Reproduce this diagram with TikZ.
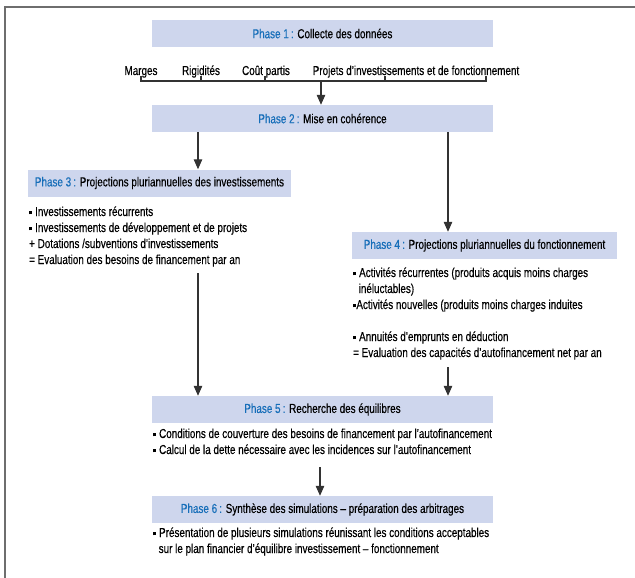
\documentclass[tikz,border=0pt]{standalone}
\usepackage{fontspec}
\setmainfont{Liberation Sans}[FakeStretch=0.76,FakeBold=0.4]
\usetikzlibrary{arrows.meta}
\definecolor{boxblue}{RGB}{206,214,237}
\definecolor{phaseblue}{RGB}{22,110,185}
\definecolor{framegray}{RGB}{110,110,110}
\newcommand{\sq}{\raisebox{1.6pt}{\rule{3.2pt}{3.2pt}}}
\newcommand{\ph}[2]{{\color{phaseblue}Phase #1\,:} #2}
\tikzset{
  phase/.style={fill=boxblue,inner sep=0pt,minimum height=27pt,font=\fontsize{13}{15}\selectfont},
  items/.style={anchor=base west,align=left,inner sep=0pt,font=\fontsize{13}{16}\selectfont},
  lbl/.style={inner sep=0pt,font=\fontsize{13}{15}\selectfont},
  arr/.style={draw=black!80,line width=1.2pt,-{Triangle[length=10pt,width=8.5pt]}}
}
\begin{document}
\begin{tikzpicture}[x=1pt,y=-1pt]
 \useasboundingbox (0,0) rectangle (635,578);
 \draw[framegray,line width=1.8pt] (5,578)--(5,7)--(635,7);

 \node[phase,minimum width=341pt] (p1) at (322.5,33.5) {\ph{1}{Collecte des données}};
 \node[lbl,anchor=base] (marges) at (141,75) {Marges};
 \node[lbl,anchor=base] (rigid) at (201,75) {Rigidités};
 \node[lbl,anchor=base] (cout) at (266,75) {Coût partis};
 \node[lbl,anchor=base] (projets) at (416,75) {Projets d’investissements et de fonctionnement};
 \draw[black!80,line width=1.2pt] (141,76)--(141,81)--(486,81)--(486,76);
 \foreach \x in {201,265,385} \draw[black!80,line width=1.2pt] (\x,76)--(\x,81);
 \coordinate (br) at (321,81);

 \node[phase,minimum width=341pt] (p2) at (322.5,118.5) {\ph{2}{Mise en cohérence}};
 \node[phase,minimum width=263pt] (p3) at (159.5,183) {\ph{3}{Projections pluriannuelles des investissements}};
 \node[phase,minimum width=265pt] (p4) at (484.5,245.5) {\ph{4}{Projections pluriannuelles du fonctionnement}};
 \node[phase,minimum width=341pt] (p5) at (322.5,409.5) {\ph{5}{Recherche des équilibres}};
 \node[phase,minimum width=341pt] (p6) at (322.5,509.5) {\ph{6}{Synthèse des simulations -- préparation des arbitrages}};

 \node[items] (t3) at (29,264) {\sq\ Investissements récurrents\\
  \sq\ Investissements de développement et de projets\\
  + Dotations /subventions d’investissements\\
  = Evaluation des besoins de financement par an};
 \node[items] (t4) at (353,357) {\sq\ Activités récurrentes (produits acquis moins charges\\
  \hspace*{5.5pt}inéluctables)\\
  \sq Activités nouvelles (produits moins charges induites\\[16pt]
  \sq\ Annuités d’emprunts en déduction\\
  = Evaluation des capacités d’autofinancement net par an};
 \node[items] (t5) at (153,454) {\sq\ Conditions de couverture des besoins de financement par l’autofinancement\\
  \sq\ Calcul de la dette nécessaire avec les incidences sur l’autofinancement};
 \node[items] (t6) at (153,553) {\sq\ Présentation de plusieurs simulations réunissant les conditions acceptables\\
  \hspace*{5.5pt}sur le plan financier d’équilibre investissement -- fonctionnement};

 \coordinate (a3) at (198,0);
 \coordinate (a4) at (448,0);
 \coordinate (s3) at (198,273);
 \coordinate (s4) at (448,367);
 \coordinate (s5) at (320,467);
 \draw[arr] (br) -- (br |- p2.north);
 \draw[arr] (p2.south -| a3) -- (p3.north -| a3);
 \draw[arr] (p2.south -| a4) -- (p4.north -| a4);
 \draw[arr] (s3) -- (s3 |- p5.north);
 \draw[arr] (s4) -- (s4 |- p5.north);
 \draw[arr] (s5) -- (s5 |- p6.north);
\end{tikzpicture}
\end{document}
